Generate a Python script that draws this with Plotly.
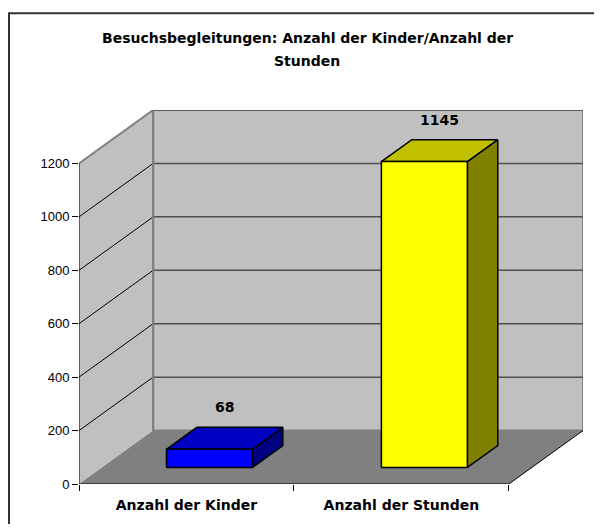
import plotly.graph_objects as go

# ---- data ----
title_lines = ["Besuchsbegleitungen: Anzahl der Kinder/Anzahl der", "Stunden"]
categories = ["Anzahl der Kinder", "Anzahl der Stunden"]
values = [68, 1145]
y_ticks = [0, 200, 400, 600, 800, 1000, 1200]

front_colors = ["#0000FF", "#FFFF00"]
top_colors = ["#0000C0", "#C0C000"]
side_colors = ["#000080", "#808000"]

# ---- pseudo-3D projection (style constants) ----
DX = 0.345          # depth offset in category units
DY = 200            # depth offset in value units
D0, D1 = 0.31, 0.72  # bar depth span (fraction of depth)
BW = 0.4            # bar width (fraction of category)
YMAX = max(y_ticks)
N = len(categories)

# the page body adds an 8px margin; the figure is sized to fit inside the window
OFF = 8
W, H = 602 - 2 * OFF, 532 - 2 * OFF
ML, MT = 79 - OFF, 109.5 - OFF
MR = W - (583 - OFF)
MB = H - (484 - OFF)
PW, PH = W - ML - MR, H - MT - MB


def px_x(p):
    return (p - OFF - ML) / PW


def px_y(p):
    return (H - MB - (p - OFF)) / PH


FONT = "Liberation Sans, Arial, sans-serif"
BFONT = "DejaVu Sans, Liberation Sans, sans-serif"

fig = go.Figure()
shapes = []


def poly(pts, fill, line="rgba(0,0,0,0)", width=0):
    path = "M " + " L ".join(f"{x},{y}" for x, y in pts) + " Z"
    return dict(type="path", path=path, xref="x", yref="y", fillcolor=fill,
                line=dict(color=line, width=width), layer="below")


def seg(p0, p1, color, width):
    return dict(type="line", xref="x", yref="y", x0=p0[0], y0=p0[1], x1=p1[0], y1=p1[1],
                line=dict(color=color, width=width), layer="below")


# walls and floor
shapes.append(poly([(0, 0), (0, YMAX), (DX, YMAX + DY), (DX, DY)], "#C0C0C0"))
shapes.append(poly([(DX, DY), (DX, YMAX + DY), (N + DX, YMAX + DY), (N + DX, DY)], "#C0C0C0", "#808080", 2))
shapes.append(poly([(0, 0), (N, 0), (N + DX, DY), (DX, DY)], "#808080"))

# gridlines
for v in y_ticks[1:]:
    shapes.append(seg((DX, v + DY), (N + DX, v + DY), "#505050", 1.5))
    if v < YMAX:
        shapes.append(seg((0, v), (DX, v + DY), "#000000", 1))
shapes.append(seg((0, YMAX), (DX, YMAX + DY), "#808080", 2))
shapes.append(seg((DX, DY), (DX, YMAX + DY), "#808080", 2))

# front edges
shapes.append(seg((0, 0), (N, 0), "#000000", 1))
shapes.append(seg((N, 0), (N + DX, DY), "#000000", 1))
shapes.append(seg((0, 0), (0, YMAX), "#000000", 1))

# outer border (left and top edges visible)
shapes.append(dict(type="rect", xref="paper", yref="paper",
                   x0=px_x(9), x1=px_x(700), y0=px_y(600), y1=px_y(12.5),
                   line=dict(color="#333333", width=2), fillcolor="rgba(0,0,0,0)", layer="above"))

# bars
annotations = []
dd = D1 - D0
for i, (cat, v) in enumerate(zip(categories, values)):
    x0 = i + 0.5 - BW / 2 + D0 * DX
    x1 = i + 0.5 + BW / 2 + D0 * DX
    yb = D0 * DY
    yt = yb + v
    ox, oy = dd * DX, dd * DY
    faces = [
        ([(x1, yb), (x1 + ox, yb + oy), (x1 + ox, yt + oy), (x1, yt)], side_colors[i]),
        ([(x0, yt), (x1, yt), (x1 + ox, yt + oy), (x0 + ox, yt + oy)], top_colors[i]),
        ([(x0, yb), (x1, yb), (x1, yt), (x0, yt)], front_colors[i]),
    ]
    for pts, col in faces:
        xs = [p[0] for p in pts] + [pts[0][0]]
        ys = [p[1] for p in pts] + [pts[0][1]]
        fig.add_trace(go.Scatter(x=xs, y=ys, mode="lines", fill="toself", fillcolor=col,
                                 line=dict(color="#000000", width=1.5), hoverinfo="skip",
                                 showlegend=False))
    annotations.append(dict(x=i + 0.5 + (D0 + D1) / 2 * DX, y=D1 * DY + v, xref="x", yref="y",
                            text=f"<b>{v}</b>", showarrow=False, yanchor="middle", yshift=20,
                            font=dict(family=BFONT, size=14, color="#000000")))

# title
for k, (line, py) in enumerate(zip(title_lines, [37, 60])):
    annotations.append(dict(x=px_x(307), y=px_y(py), xref="paper", yref="paper",
                            text=f"<b>{line}</b>", showarrow=False, xanchor="center",
                            yanchor="middle", font=dict(family=BFONT, size=14, color="#000000")))

fig.update_layout(
    width=W, height=H,
    margin=dict(l=ML, r=MR, t=MT, b=MB, pad=0),
    paper_bgcolor="#FFFFFF", plot_bgcolor="rgba(0,0,0,0)",
    shapes=shapes, annotations=annotations, showlegend=False,
    xaxis=dict(range=[0, N + DX], showgrid=False, zeroline=False, showline=False,
               tickmode="array", tickvals=[i + 0.5 for i in range(N)],
               ticktext=[f"<b>{c}</b>" for c in categories], ticks="",
               ticklabelstandoff=11,
               tickfont=dict(family=BFONT, size=14, color="#000000"),
               minor=dict(tickmode="array", tickvals=list(range(N + 1)), ticks="outside",
                          ticklen=6, tickcolor="#000000", tickwidth=1, showgrid=False),
               fixedrange=True),
    yaxis=dict(range=[0, YMAX + DY], showgrid=False, zeroline=False, showline=False,
               tickmode="array", tickvals=y_ticks, ticks="outside", ticklen=6,
               tickcolor="#000000", tickwidth=1,
               tickfont=dict(family=FONT, size=13, color="#000000"), fixedrange=True),
)

fig.write_html("out.html")
